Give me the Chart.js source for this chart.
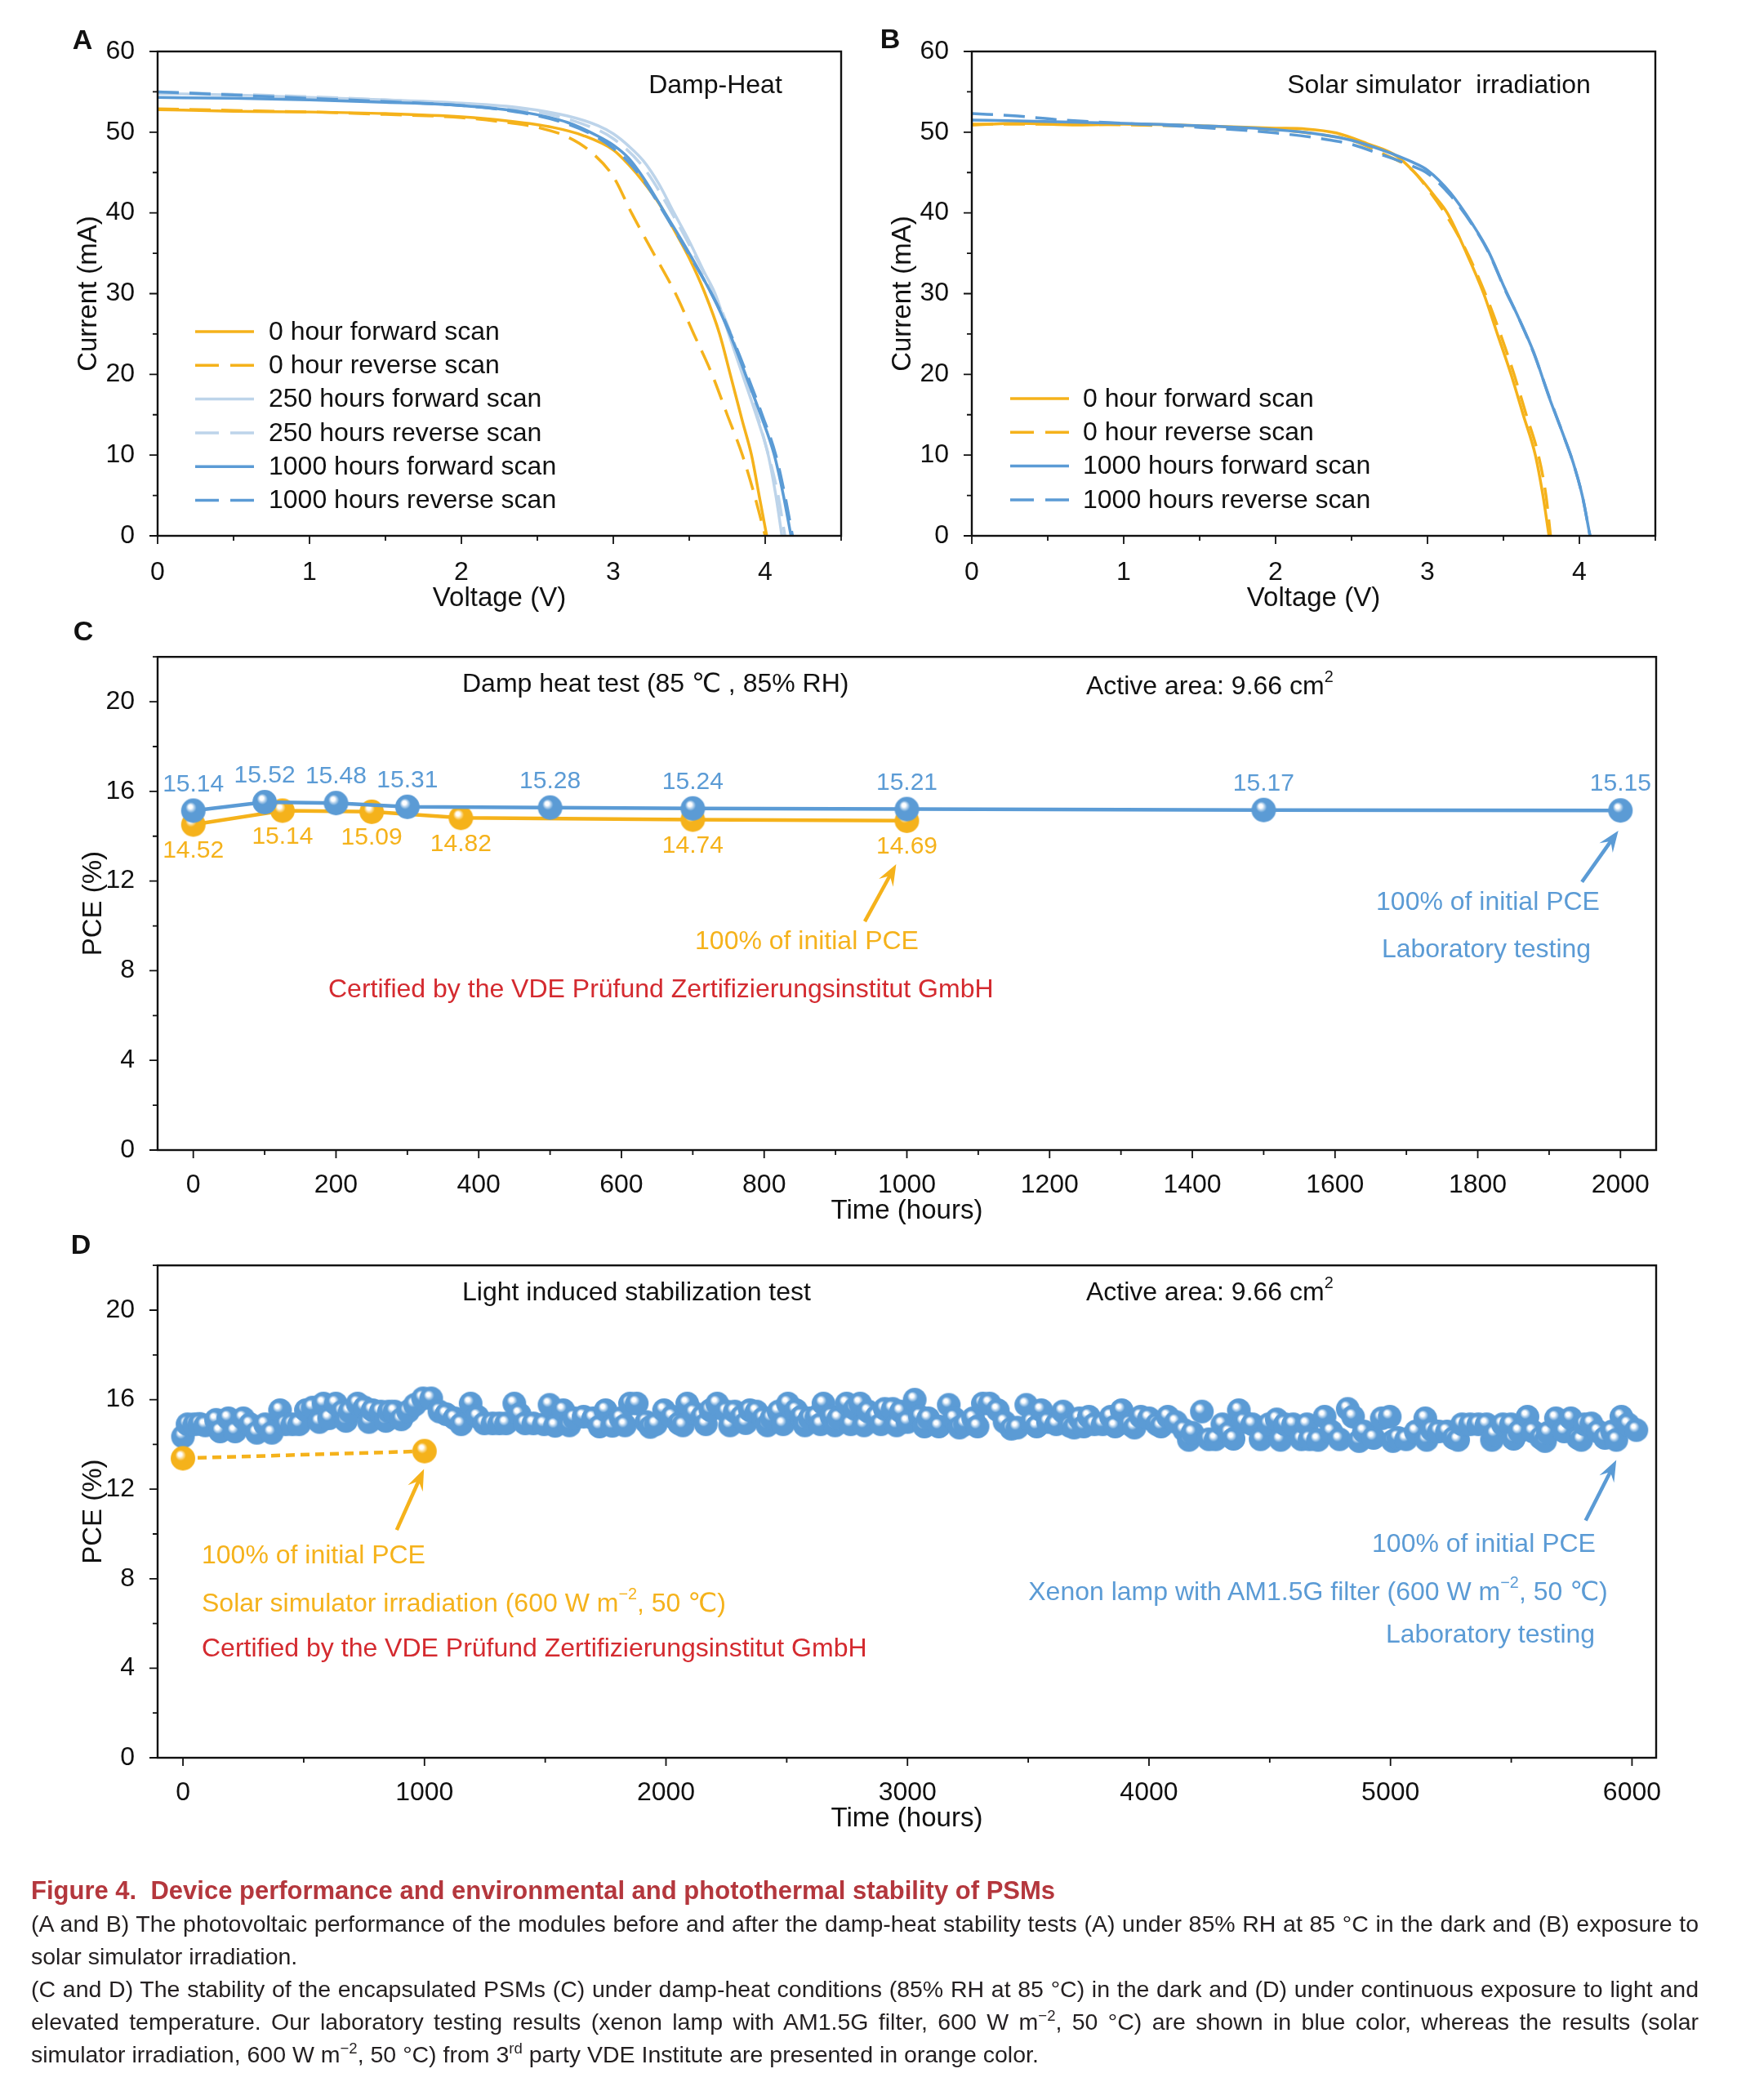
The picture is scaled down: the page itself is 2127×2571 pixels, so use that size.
<!DOCTYPE html>
<html><head><meta charset="utf-8">
<script src="https://cdn.jsdelivr.net/npm/chart.js@4.4.1/dist/chart.umd.min.js"></script>
<style>
html,body{margin:0;padding:0;background:#fff;}
body{width:2127px;height:2571px;position:relative;overflow:hidden;font-family:"Liberation Sans",Arial,Helvetica,"DejaVu Sans",sans-serif;color:#111;}
canvas{position:absolute;}
.t{position:absolute;white-space:nowrap;font-size:32px;line-height:1;}
.c{transform:translate(-50%,-50%);}
.l{transform:translate(0,-50%);}
.letter{font-weight:bold;font-size:34px;}
.t sup{font-size:62%;vertical-align:baseline;position:relative;top:-0.75em;}
#caption{position:absolute;left:38px;top:2295px;width:2042px;font-size:28.5px;line-height:40px;color:#231f20;text-align:justify;}
#caption .ct{font-weight:bold;font-size:31px;color:#b4373d;text-align:left;}
#caption sup{font-size:65%;vertical-align:baseline;position:relative;top:-0.6em;line-height:0;}
</style></head>
<body>
<canvas id="cvA" width="1050" height="765" style="left:0;top:0;width:1050px;height:765px"></canvas>
<canvas id="cvB" width="1077" height="765" style="left:1050px;top:0;width:1077px;height:765px"></canvas>
<canvas id="cvC" width="2127" height="745" style="left:0;top:765px;width:2127px;height:745px"></canvas>
<canvas id="cvD" width="2127" height="790" style="left:0;top:1510px;width:2127px;height:790px"></canvas>

<div class="t c letter" style="left:101px;top:48px">A</div>
<div class="t c letter" style="left:1090px;top:47px">B</div>
<div class="t c letter" style="left:102px;top:772px">C</div>
<div class="t c letter" style="left:99px;top:1523px">D</div>

<div class="t c" style="left:876px;top:103px">Damp-Heat</div>
<div class="t c" style="left:1762px;top:103px">Solar simulator&nbsp; irradiation</div>

<div class="t l" style="left:566px;top:836px">Damp heat test (85 ℃ , 85% RH)</div>
<div class="t l" style="left:1330px;top:839px">Active area: 9.66 cm<sup>2</sup></div>
<div class="t c" style="left:988px;top:1151px;color:#F5B21B">100% of initial PCE</div>
<div class="t l" style="left:402px;top:1210px;color:#D42A2F">Certified by the VDE Prüfund Zertifizierungsinstitut GmbH</div>
<div class="t c" style="left:1822px;top:1103px;color:#5B9BD5">100% of initial PCE</div>
<div class="t c" style="left:1820px;top:1161px;color:#5B9BD5">Laboratory testing</div>

<div class="t l" style="left:566px;top:1581px">Light induced stabilization test</div>
<div class="t l" style="left:1330px;top:1581px">Active area: 9.66 cm<sup>2</sup></div>
<div class="t l" style="left:247px;top:1903px;color:#F5B21B">100% of initial PCE</div>
<div class="t l" style="left:247px;top:1962px;color:#F5B21B">Solar simulator irradiation (600 W m<sup>−2</sup>, 50 ℃)</div>
<div class="t l" style="left:247px;top:2017px;color:#D42A2F">Certified by the VDE Prüfund Zertifizierungsinstitut GmbH</div>
<div class="t c" style="left:1817px;top:1889px;color:#5B9BD5">100% of initial PCE</div>
<div class="t c" style="left:1614px;top:1948px;color:#5B9BD5">Xenon lamp with AM1.5G filter (600 W m<sup>−2</sup>, 50 ℃)</div>
<div class="t c" style="left:1825px;top:2000px;color:#5B9BD5">Laboratory testing</div>

<div id="caption">
<div class="ct">Figure 4.&nbsp; Device performance and environmental and photothermal stability of PSMs</div>
<div>(A and B) The photovoltaic performance of the modules before and after the damp-heat stability tests (A) under 85% RH at 85 °C in the dark and (B) exposure to solar simulator irradiation.</div>
<div>(C and D) The stability of the encapsulated PSMs (C) under damp-heat conditions (85% RH at 85 °C) in the dark and (D) under continuous exposure to light and elevated temperature. Our laboratory testing results (xenon lamp with AM1.5G filter, 600 W m<sup>−2</sup>, 50 °C) are shown in blue color, whereas the results (solar simulator irradiation, 600 W m<sup>−2</sup>, 50 °C) from 3<sup>rd</sup> party VDE Institute are presented in orange color.</div>
</div>

<script>
// ---------------- DATA ----------------
// Panel A (Damp-Heat) I-V curves: voltage (V) and current (mA)
const A_0h_fwd_V = [0, 0.5, 1.0, 1.5, 2.0, 2.3, 2.6, 2.8, 3.0, 3.1, 3.2, 3.3, 3.4, 3.5, 3.6, 3.7, 3.77, 3.85, 3.91, 3.96, 4.01];
const A_0h_fwd_I = [52.8, 52.6, 52.5, 52.3, 51.9, 51.4, 50.6, 49.6, 47.8, 46.0, 43.8, 41.2, 37.9, 34.4, 30.2, 25.0, 20.0, 14.2, 10.0, 5.0, 0];
const A_0h_rev_V = [0, 0.5, 1.0, 1.5, 2.0, 2.3, 2.5, 2.7, 2.85, 3.0, 3.12, 3.25, 3.41, 3.53, 3.65, 3.75, 3.85, 3.93, 4.0];
const A_0h_rev_I = [52.9, 52.7, 52.5, 52.2, 51.8, 51.2, 50.6, 49.4, 47.6, 44.5, 40.0, 35.5, 30.0, 25.0, 20.0, 15.0, 10.0, 5.0, 0];
const A_250h_fwd_V = [0, 0.5, 1.0, 1.5, 2.0, 2.4, 2.7, 2.9, 3.0, 3.1, 3.2, 3.3, 3.4, 3.5, 3.6, 3.67, 3.76, 3.85, 3.94, 4.02, 4.07, 4.11];
const A_250h_fwd_I = [54.8, 54.6, 54.3, 54.0, 53.6, 53.0, 52.0, 50.8, 49.8, 48.3, 46.4, 43.6, 40.0, 36.5, 32.6, 30.0, 25.0, 20.0, 15.0, 10.0, 5.0, 0];
const A_250h_rev_V = [0, 0.5, 1.0, 1.5, 2.0, 2.5, 2.8, 3.0, 3.2, 3.4, 3.6, 3.7, 3.85, 4.0, 4.08, 4.13];
const A_250h_rev_I = [55.0, 54.7, 54.4, 54.0, 53.5, 52.5, 51.0, 49.2, 45.6, 39.5, 32.4, 28.5, 21.0, 11.5, 5.5, 0];
const A_1000h_fwd_V = [0, 0.5, 1.0, 1.5, 2.0, 2.4, 2.7, 2.9, 3.0, 3.1, 3.2, 3.34, 3.5, 3.68, 3.8, 3.87, 3.97, 4.06, 4.12, 4.17];
const A_1000h_fwd_I = [54.3, 54.2, 54.0, 53.7, 53.3, 52.5, 51.2, 49.5, 48.4, 46.8, 44.3, 40.0, 35.0, 28.7, 23.5, 20.0, 15.0, 10.0, 5.0, 0];
const A_1000h_rev_V = [0, 0.5, 1.0, 1.5, 2.0, 2.4, 2.7, 2.9, 3.0, 3.1, 3.2, 3.34, 3.5, 3.68, 3.8, 3.88, 3.98, 4.07, 4.13, 4.18];
const A_1000h_rev_I = [55.0, 54.6, 54.2, 53.8, 53.3, 52.4, 51.0, 49.3, 48.0, 46.3, 44.0, 39.8, 34.8, 28.8, 23.8, 20.0, 15.0, 10.0, 5.0, 0];

// Panel B (Solar simulator irradiation) I-V curves
const B_0h_fwd_V = [0, 0.3, 0.7, 1.0, 1.5, 2.0, 2.2, 2.4, 2.6, 2.8, 2.96, 3.05, 3.13, 3.25, 3.37, 3.46, 3.55, 3.63, 3.71, 3.76, 3.8];
const B_0h_fwd_I = [50.9, 51.1, 50.9, 51.0, 50.8, 50.5, 50.4, 49.9, 48.6, 47.0, 44.1, 42.0, 40.0, 35.3, 30.0, 25.0, 20.0, 15.0, 10.0, 5.0, 0];
const B_0h_rev_V = [0, 0.5, 1.0, 1.5, 2.0, 2.3, 2.5, 2.7, 2.9, 3.0, 3.13, 3.25, 3.38, 3.48, 3.57, 3.65, 3.73, 3.78, 3.81];
const B_0h_rev_I = [51.0, 51.0, 50.9, 50.7, 50.3, 49.7, 49.0, 47.4, 45.3, 43.0, 39.5, 35.5, 30.0, 25.0, 20.0, 15.0, 10.0, 5.0, 0];
const B_1000h_fwd_V = [0, 0.3, 1.0, 1.5, 2.0, 2.3, 2.5, 2.7, 2.9, 3.0, 3.15, 3.3, 3.4, 3.51, 3.6, 3.7, 3.8, 3.9, 3.96, 4.02, 4.07];
const B_1000h_fwd_I = [51.5, 51.4, 51.1, 50.8, 50.3, 49.7, 49.0, 47.8, 46.3, 45.3, 42.5, 38.5, 35.3, 30.6, 27.0, 22.7, 17.2, 12.2, 9.0, 4.9, 0];
const B_1000h_rev_V = [0, 0.3, 0.6, 1.0, 1.5, 2.0, 2.3, 2.5, 2.7, 2.9, 3.0, 3.15, 3.3, 3.4, 3.51, 3.6, 3.7, 3.8, 3.9, 3.96, 4.02, 4.07];
const B_1000h_rev_I = [52.3, 52.0, 51.5, 51.1, 50.6, 49.9, 49.2, 48.5, 47.2, 45.8, 44.9, 42.2, 38.4, 35.2, 30.5, 27.0, 22.6, 17.3, 12.2, 9.0, 4.9, 0];

// Panel C (damp heat test) PCE vs time
const C_lab_hours = [0, 100, 200, 300, 500, 700, 1000, 1500, 2000];
const C_lab_pce   = [15.14, 15.52, 15.48, 15.31, 15.28, 15.24, 15.21, 15.17, 15.15];
const C_vde_hours = [0, 125, 250, 375, 700, 1000];
const C_vde_pce   = [14.52, 15.14, 15.09, 14.82, 14.74, 14.69];

// Panel D (light induced stabilization test) PCE vs time
const D_vde_hours = [0, 1000];
const D_vde_pce   = [13.38, 13.70];
const D_lab_hours = [0,19,47,69,92,137,154,188,216,250,278,306,340,368,402,425,453,481,509,537,565,582,605,633,661,675,690,723,752,770,785,819,840,853,876,904,932,960,994,1028,1062,1090,1124,1152,1191,1220,1248,1282,1310,1338,1372,1394,1417,1451,
1495,1518,1541,1575,1600,1620,1659,1699,1725,1750,1778,1812,1830,1851,1879,1919,1935,1958,1992,2026,2054,2070,2088,2116,2150,2165,2184,2212,2251,2265,2285,2313,2330,2347,2375,2404,2420,2437,2466,2485,2505,2539,2561,2575,2595,2623,2640,2652,2686,2700,2714,2748,2765,2782,2804,2820,2838,2872,2890,2906,2939,2955,2973,3000,3030,3052,3070,3086,
3130,3171,3193,3215,3238,3272,3290,3312,3340,3374,3402,3430,3455,3492,3515,3535,3554,3582,3616,3644,3672,3690,3712,3730,3751,3774,3808,3842,3860,3887,3921,3940,3966,4000,4033,4050,4078,4112,4146,4165,4180,4219,4248,4276,4304,4332,4350,4372,4394,4428,4462,4496,4529,4545,4563,4597,4631,
4654,4665,4700,4727,4755,4789,4823,4845,4870,4890,4930,4964,4997,5010,5031,5065,5105,5144,5150,5172,5200,5234,5262,5280,5296,5330,5364,5398,5420,5432,5465,5499,5510,5533,5567,5590,5623,5640,5652,5685,5719,5747,5776,5790,5804,5832,5860,5888,5917,5935,5956,5984,6018];
const D_lab_pce = [14.35,14.9,14.9,14.92,14.85,15.1,14.58,15.17,14.58,15.17,14.9,14.52,14.9,14.52,15.53,14.9,14.9,14.9,15.53,15.65,15.0,15.83,15.17,15.83,15.47,15.05,15.47,15.83,15.65,15.0,15.53,15.47,15.05,15.47,15.47,15.12,15.47,15.77,16.06,16.06,15.47,15.35,15.17,14.9,15.83,15.24,14.94,14.94,14.94,14.94,15.83,15.35,14.94,14.94,
14.9,15.77,14.83,15.53,14.85,15.17,15.24,15.17,14.8,15.53,14.83,15.17,14.85,15.83,15.83,15.0,14.78,14.9,15.53,15.24,14.94,14.85,15.83,15.41,15.24,14.9,15.53,15.83,15.47,14.85,15.47,15.24,14.95,15.53,15.47,15.17,14.85,15.17,15.47,14.9,15.83,15.53,15.24,14.85,15.17,15.24,14.9,15.83,15.24,14.85,15.17,15.83,14.9,15.59,15.83,14.85,15.47,15.24,14.9,15.59,15.59,14.85,15.47,15.0,16.0,15.24,14.8,15.17,
14.8,15.77,15.17,14.75,14.9,15.17,14.8,15.83,15.83,15.53,15.0,14.7,14.75,15.77,15.0,14.8,15.53,15.0,14.9,15.47,14.83,14.75,15.17,14.8,15.24,14.9,14.9,15.24,14.8,15.53,14.9,14.75,15.24,15.17,14.9,14.8,15.24,15.0,14.64,14.2,14.52,15.47,14.23,14.23,14.9,14.52,14.25,15.53,15.0,14.9,14.23,14.9,15.12,14.2,14.9,14.9,14.23,
14.9,14.23,14.2,15.24,14.58,14.23,15.59,15.24,14.15,14.58,14.29,15.17,15.24,14.15,14.29,14.23,14.58,15.17,14.2,14.64,14.58,14.58,14.29,14.2,14.9,14.9,14.9,14.9,14.2,14.46,14.9,14.9,14.25,14.58,15.24,14.58,14.29,14.15,14.52,15.17,14.58,15.17,14.29,14.2,14.9,14.94,14.58,14.29,14.58,14.2,15.24,14.9,14.64];

// Tick values
const IV_V_TICKS = [0, 1, 2, 3, 4];
const IV_I_TICKS = [0, 10, 20, 30, 40, 50, 60];
const C_HOUR_TICKS = [0, 200, 400, 600, 800, 1000, 1200, 1400, 1600, 1800, 2000];
const D_HOUR_TICKS = [0, 1000, 2000, 3000, 4000, 5000, 6000];
const PCE_TICKS = [0, 4, 8, 12, 16, 20];

// ---------------- STYLE ----------------
const FONT = '"Liberation Sans", Arial, Helvetica, sans-serif';
const ORANGE = '#F5B21B';
const BLUE = '#5B9BD5';
const LIGHTBLUE = '#BDD4EA';
const INK = '#111111';

function minorOf(majors, min, max) {
  const step = majors[1] - majors[0];
  const out = [];
  for (let v = majors[0] - step / 2; v <= max + 1e-9; v += step) if (v >= min - 1e-9) out.push(v);
  return out;
}

const framePlugin = {
  id: 'frame',
  afterDatasetsDraw(chart, args, o) {
    const {ctx, chartArea: a} = chart;
    const xs = chart.scales.x, ys = chart.scales.y;
    ctx.save();
    ctx.strokeStyle = INK;
    ctx.lineWidth = 1.8;
    const mk = 10, mn = 6;
    ctx.beginPath();
    const xMaj = xs.ticks.map(t => t.value);
    const yMaj = ys.ticks.map(t => t.value);
    xMaj.forEach(v => { const p = xs.getPixelForValue(v); ctx.moveTo(p, a.bottom); ctx.lineTo(p, a.bottom + mk); });
    minorOf(xMaj, xs.min, xs.max).forEach(v => { const p = xs.getPixelForValue(v); ctx.moveTo(p, a.bottom); ctx.lineTo(p, a.bottom + mn); });
    yMaj.forEach(v => { const p = ys.getPixelForValue(v); ctx.moveTo(a.left, p); ctx.lineTo(a.left - mk, p); });
    minorOf(yMaj, ys.min, ys.max).forEach(v => { const p = ys.getPixelForValue(v); ctx.moveTo(a.left, p); ctx.lineTo(a.left - mn, p); });
    ctx.stroke();
    ctx.lineWidth = 2.4;
    ctx.strokeRect(a.left, a.top, a.right - a.left, a.bottom - a.top);
    ctx.restore();
  }
};

const titlesPlugin = {
  id: 'axisTitles',
  afterDraw(chart, args, o) {
    const {ctx, chartArea: a} = chart;
    ctx.save();
    ctx.fillStyle = INK;
    ctx.font = `33px ${FONT}`;
    ctx.textAlign = 'center';
    ctx.textBaseline = 'middle';
    ctx.fillText(o.x, (a.left + a.right) / 2, a.bottom + o.xOff);
    ctx.translate(a.left - o.yOff, (a.top + a.bottom) / 2);
    ctx.rotate(-Math.PI / 2);
    ctx.fillText(o.y, 0, 0);
    ctx.restore();
  }
};

const legendPlugin = {
  id: 'ivLegend',
  afterDraw(chart, args, o) {
    const ctx = chart.ctx, ox = chart.canvas.offsetLeft, oy = chart.canvas.offsetTop;
    ctx.save();
    chart.data.datasets.forEach((ds, i) => {
      const y = o.y0 + i * o.dy - oy;
      ctx.strokeStyle = ds.borderColor;
      ctx.lineWidth = ds.borderWidth;
      ctx.setLineDash(ds.borderDash && ds.borderDash.length ? [29, 14] : []);
      ctx.beginPath(); ctx.moveTo(o.x0 - ox, y); ctx.lineTo(o.x1 - ox, y); ctx.stroke();
      ctx.setLineDash([]);
      ctx.fillStyle = INK;
      ctx.font = `32px ${FONT}`;
      ctx.textBaseline = 'middle';
      ctx.textAlign = 'left';
      ctx.fillText(ds.label, o.tx - ox, y + 1);
    });
    ctx.restore();
  }
};

const valueLabelPlugin = {
  id: 'valueLabels',
  afterDatasetsDraw(chart, args, o) {
    const ctx = chart.ctx;
    ctx.save();
    ctx.font = `30px ${FONT}`;
    ctx.textAlign = 'center';
    ctx.textBaseline = 'middle';
    chart.data.datasets.forEach((ds, i) => {
      const meta = chart.getDatasetMeta(i);
      const dy = ds.labelOffset;
      if (dy === undefined) return;
      ctx.fillStyle = ds.borderColor;
      meta.data.forEach((el, j) => ctx.fillText(ds.data[j].y.toFixed(2), el.x, el.y + dy));
    });
    ctx.restore();
  }
};

const arrowPlugin = {
  id: 'arrows',
  afterDraw(chart, args, o) {
    const ctx = chart.ctx, xs = chart.scales.x, ys = chart.scales.y;
    (o.list || []).forEach(ar => {
      const x1 = xs.getPixelForValue(ar.from[0]), y1 = ys.getPixelForValue(ar.from[1]);
      const x2 = xs.getPixelForValue(ar.to[0]), y2 = ys.getPixelForValue(ar.to[1]);
      const ang = Math.atan2(y2 - y1, x2 - x1);
      const L = 26, W = 10;
      ctx.save();
      ctx.strokeStyle = ar.color; ctx.fillStyle = ar.color; ctx.lineWidth = 4.5; ctx.lineCap = 'butt';
      ctx.beginPath();
      ctx.moveTo(x1, y1);
      ctx.lineTo(x2 - Math.cos(ang) * L * 0.6, y2 - Math.sin(ang) * L * 0.6);
      ctx.stroke();
      ctx.translate(x2, y2); ctx.rotate(ang);
      ctx.beginPath();
      ctx.moveTo(0, 0);
      ctx.lineTo(-L, -W);
      ctx.lineTo(-L * 0.62, 0);
      ctx.lineTo(-L, W);
      ctx.closePath();
      ctx.fill();
      ctx.restore();
    });
  }
};

function makeBall(color, r) {
  const c = document.createElement('canvas');
  c.width = c.height = Math.ceil(2 * r + 2);
  const g = c.getContext('2d');
  const cx = c.width / 2, cy = c.height / 2;
  const grd = g.createRadialGradient(cx - r * 0.28, cy - r * 0.36, r * 0.02, cx - r * 0.05, cy - r * 0.08, r * 1.02);
  grd.addColorStop(0, '#ffffff');
  grd.addColorStop(0.14, '#ffffff');
  grd.addColorStop(0.42, color);
  grd.addColorStop(1, color);
  g.fillStyle = grd;
  g.beginPath(); g.arc(cx, cy, r, 0, Math.PI * 2); g.fill();
  return c;
}

function toXY(xs, ys) { return xs.map((v, i) => ({x: v, y: ys[i]})); }

function ivDS(label, V, I, color, dashed, i) {
  return {label, data: toXY(V, I), borderColor: color, backgroundColor: color, borderWidth: 3.5,
    borderDash: dashed ? [26, 13] : [], pointRadius: 0, cubicInterpolationMode: 'monotone', fill: false, order: -i};
}

function fixTicks(arr) { return s => { s.ticks = arr.map(v => ({value: v})); }; }

function scaleOpts(min, max, ticks, fitFn, pad) {
  return {type: 'linear', min, max, afterBuildTicks: fixTicks(ticks), afterFit: fitFn,
    grid: {display: false}, border: {display: false},
    ticks: {color: INK, font: {family: FONT, size: 32}, padding: pad, maxRotation: 0, autoSkip: false,
      callback: v => String(v)}};
}

function baseOptions(padding, xs, ys, pluginOpts) {
  return {responsive: false, animation: false, events: [], layout: {padding},
    scales: {x: xs, y: ys},
    plugins: Object.assign({legend: {display: false}, tooltip: {enabled: false}}, pluginOpts)};
}

// ---------------- PANEL A ----------------
new Chart(document.getElementById('cvA'), {
  type: 'line',
  data: {datasets: [
    ivDS('0 hour forward scan', A_0h_fwd_V, A_0h_fwd_I, ORANGE, false, 0),
    ivDS('0 hour reverse scan', A_0h_rev_V, A_0h_rev_I, ORANGE, true, 1),
    ivDS('250 hours forward scan', A_250h_fwd_V, A_250h_fwd_I, LIGHTBLUE, false, 2),
    ivDS('250 hours reverse scan', A_250h_rev_V, A_250h_rev_I, LIGHTBLUE, true, 3),
    ivDS('1000 hours forward scan', A_1000h_fwd_V, A_1000h_fwd_I, BLUE, false, 4),
    ivDS('1000 hours reverse scan', A_1000h_rev_V, A_1000h_rev_I, BLUE, true, 5)
  ]},
  options: baseOptions({left: 0, top: 63, right: 20, bottom: 0},
    scaleOpts(0, 4.5, IV_V_TICKS, s => { s.height = 109; }, 18),
    scaleOpts(0, 60, IV_I_TICKS, s => { s.width = 193; }, 20),
    {axisTitles: {x: 'Voltage (V)', y: 'Current (mA)', xOff: 77, yOff: 84},
     ivLegend: {x0: 239, x1: 311, tx: 329, y0: 406, dy: 41.3}}),
  plugins: [framePlugin, titlesPlugin, legendPlugin]
});

// ---------------- PANEL B ----------------
new Chart(document.getElementById('cvB'), {
  type: 'line',
  data: {datasets: [
    ivDS('0 hour forward scan', B_0h_fwd_V, B_0h_fwd_I, ORANGE, false, 0),
    ivDS('0 hour reverse scan', B_0h_rev_V, B_0h_rev_I, ORANGE, true, 1),
    ivDS('1000 hours forward scan', B_1000h_fwd_V, B_1000h_fwd_I, BLUE, false, 2),
    ivDS('1000 hours reverse scan', B_1000h_rev_V, B_1000h_rev_I, BLUE, true, 3)
  ]},
  options: baseOptions({left: 0, top: 63, right: 100, bottom: 0},
    scaleOpts(0, 4.5, IV_V_TICKS, s => { s.height = 109; }, 18),
    scaleOpts(0, 60, IV_I_TICKS, s => { s.width = 140; }, 20),
    {axisTitles: {x: 'Voltage (V)', y: 'Current (mA)', xOff: 77, yOff: 84},
     ivLegend: {x0: 1237, x1: 1309, tx: 1326, y0: 488, dy: 41.3}}),
  plugins: [framePlugin, titlesPlugin, legendPlugin]
});

// ---------------- PANEL C ----------------
const ballBlue = makeBall(BLUE, 15);
const ballOrange = makeBall(ORANGE, 15);
const ballBlueD = makeBall(BLUE, 14.5);

new Chart(document.getElementById('cvC'), {
  type: 'line',
  data: {datasets: [
    {label: 'Laboratory testing', data: toXY(C_lab_hours, C_lab_pce), borderColor: BLUE, borderWidth: 4.5,
     pointStyle: ballBlue, pointRadius: 15, tension: 0, labelOffset: -32},
    {label: 'VDE certified', data: toXY(C_vde_hours, C_vde_pce), borderColor: ORANGE, borderWidth: 4.5,
     pointStyle: ballOrange, pointRadius: 15, tension: 0, labelOffset: 32}
  ]},
  options: baseOptions({left: 0, top: 27, right: 99, bottom: 0},
    scaleOpts(-50, 2050, C_HOUR_TICKS, s => { s.height = 102; }, 16),
    scaleOpts(0, 22, PCE_TICKS, s => { s.width = 193; }, 20),
    {axisTitles: {x: 'Time (hours)', y: 'PCE (%)', xOff: 75, yOff: 78},
     arrows: {list: [{from: [941, 10.2], to: [985, 12.75], color: ORANGE},
                     {from: [1946, 11.96], to: [1997, 14.25], color: BLUE}]}}),
  plugins: [framePlugin, titlesPlugin, valueLabelPlugin, arrowPlugin]
});

// ---------------- PANEL D ----------------
const dLab = D_lab_hours.map((h, i) => ({x: h, y: D_lab_pce[i]})).sort((a, b) => a.x - b.x);
new Chart(document.getElementById('cvD'), {
  type: 'line',
  data: {datasets: [
    {label: 'VDE certified', data: toXY(D_vde_hours, D_vde_pce), borderColor: ORANGE, borderWidth: 4.5,
     borderDash: [11, 7], pointStyle: ballOrange, pointRadius: 15, tension: 0},
    {label: 'Laboratory testing', data: dLab, borderColor: BLUE, showLine: false,
     pointStyle: ballBlueD, pointRadius: 14.5}
  ]},
  options: baseOptions({left: 0, top: 24, right: 99, bottom: 0},
    scaleOpts(-105, 6100, D_HOUR_TICKS, s => { s.height = 148; }, 16),
    scaleOpts(0, 22, PCE_TICKS, s => { s.width = 193; }, 20),
    {axisTitles: {x: 'Time (hours)', y: 'PCE (%)', xOff: 75, yOff: 78},
     arrows: {list: [{from: [885, 10.18], to: [998, 12.9], color: ORANGE},
                     {from: [5808, 10.6], to: [5935, 13.3], color: BLUE}]}}),
  plugins: [framePlugin, titlesPlugin, arrowPlugin]
});
</script>
</body></html>
